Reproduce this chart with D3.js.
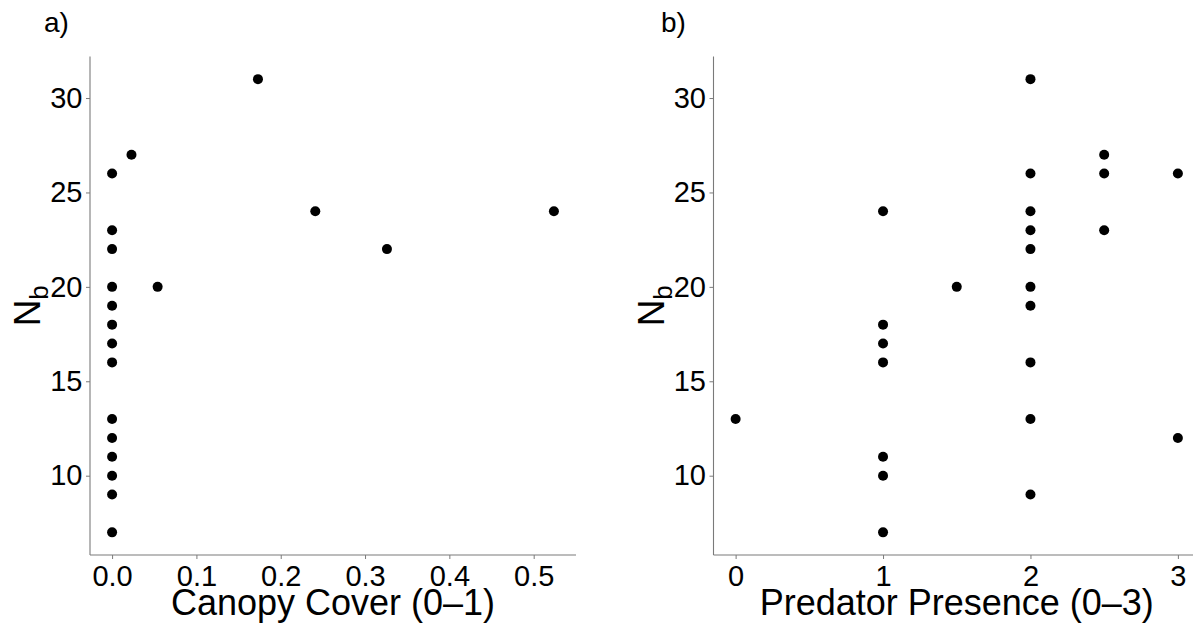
<!DOCTYPE html>
<html>
<head>
<meta charset="utf-8">
<script src="https://cdn.jsdelivr.net/npm/d3@7"></script>
<style>
body { margin: 0; background: #fff; }
svg { display: block; font-family: "Liberation Sans", Arial, sans-serif; }
</style>
</head>
<body>
<div id="chart"></div>
<script>
// panel a: canopy cover vs Nb
const canopyCover = [0, 0, 0, 0, 0, 0, 0, 0, 0, 0, 0, 0, 0, 0, 0.023, 0.054, 0.173, 0.241, 0.326, 0.524];
const nbCanopy = [26, 23, 22, 20, 19, 18, 17, 16, 13, 12, 11, 10, 9, 7, 27, 20, 31, 24, 22, 24];

// panel b: predator presence vs Nb
const predator = [0, 1, 1, 1, 1, 1, 1, 1, 1.5, 2, 2, 2, 2, 2, 2, 2, 2, 2, 2, 2.5, 2.5, 2.5, 3, 3];
const nbPredator = [13, 24, 18, 17, 16, 11, 10, 7, 20, 31, 26, 24, 23, 22, 20, 19, 16, 13, 9, 27, 26, 23, 26, 12];

const yTicks = [10, 15, 20, 25, 30];
const canopyTicks = [0, 0.1, 0.2, 0.3, 0.4, 0.5];
const predatorTicks = [0, 1, 2, 3];

const width = 1193, height = 628;
const plotTop = 56.5, plotBottom = 555;

const svg = d3.select("#chart")
  .append("svg")
  .attr("width", width)
  .attr("height", height);

// ggplot-style 5% expansion
function expand(ext) {
  const pad = (ext[1] - ext[0]) * 0.05;
  return [ext[0] - pad, ext[1] + pad];
}

function panel(opts) {
  const xs = opts.x, ys = opts.y;

  const xScale = d3.scaleLinear()
    .domain(expand(d3.extent(xs)))
    .range([opts.left, opts.right]);

  const yScale = d3.scaleLinear()
    .domain(expand(d3.extent(ys)))
    .range([plotBottom, plotTop]);

  const g = svg.append("g");

  const yAxis = d3.axisLeft(yScale)
    .tickValues(yTicks)
    .tickSize(4)
    .tickPadding(3.5)
    .tickFormat(d3.format("d"));

  const xAxis = d3.axisBottom(xScale)
    .tickValues(opts.ticks)
    .tickSize(4)
    .tickPadding(6)
    .tickFormat(opts.fmt);

  g.append("g")
    .attr("transform", `translate(${opts.left},0)`)
    .call(yAxis)
    .call(a => a.select(".domain").remove());

  g.append("g")
    .attr("transform", `translate(0,${plotBottom})`)
    .call(xAxis)
    .call(a => a.select(".domain").remove());

  g.selectAll(".tick line").attr("stroke", "#7a7a7a");
  g.selectAll(".tick text")
    .attr("fill", "#000")
    .style("font-size", "29px");

  // axis lines
  g.append("line")
    .attr("x1", opts.left).attr("x2", opts.left)
    .attr("y1", plotTop).attr("y2", plotBottom)
    .attr("stroke", "#7a7a7a").attr("stroke-width", 1.1);
  g.append("line")
    .attr("x1", opts.left).attr("x2", opts.right)
    .attr("y1", plotBottom).attr("y2", plotBottom)
    .attr("stroke", "#7a7a7a").attr("stroke-width", 1.1);

  g.selectAll("circle")
    .data(xs.map((d, i) => ({ x: d, y: ys[i] })))
    .join("circle")
    .attr("cx", d => xScale(d.x))
    .attr("cy", d => yScale(d.y))
    .attr("r", 5)
    .attr("fill", "#000");

  // x title
  g.append("text")
    .attr("x", (opts.left + opts.right) / 2)
    .attr("y", 615)
    .attr("text-anchor", "middle")
    .style("font-size", "36px")
    .text(opts.xTitle);

  // y title N_b
  const yt = g.append("text")
    .attr("transform", `translate(${opts.left - 50},${(plotTop + plotBottom) / 2}) rotate(-90)`)
    .attr("text-anchor", "middle")
    .style("font-size", "37px");
  yt.append("tspan").text("N");
  yt.append("tspan").attr("dy", 8).style("font-size", "26px").text("b");

  // tag
  svg.append("text")
    .attr("x", opts.tagX)
    .attr("y", 32)
    .style("font-size", "28px")
    .text(opts.tag);
}

panel({
  x: canopyCover, y: nbCanopy,
  left: 90, right: 576,
  ticks: canopyTicks, fmt: d3.format(".1f"),
  xTitle: "Canopy Cover (0\u20131)",
  tag: "a)", tagX: 44
});

panel({
  x: predator, y: nbPredator,
  left: 713.5, right: 1200,
  ticks: predatorTicks, fmt: d3.format("d"),
  xTitle: "Predator Presence (0\u20133)",
  tag: "b)", tagX: 661
});
</script>
</body>
</html>
